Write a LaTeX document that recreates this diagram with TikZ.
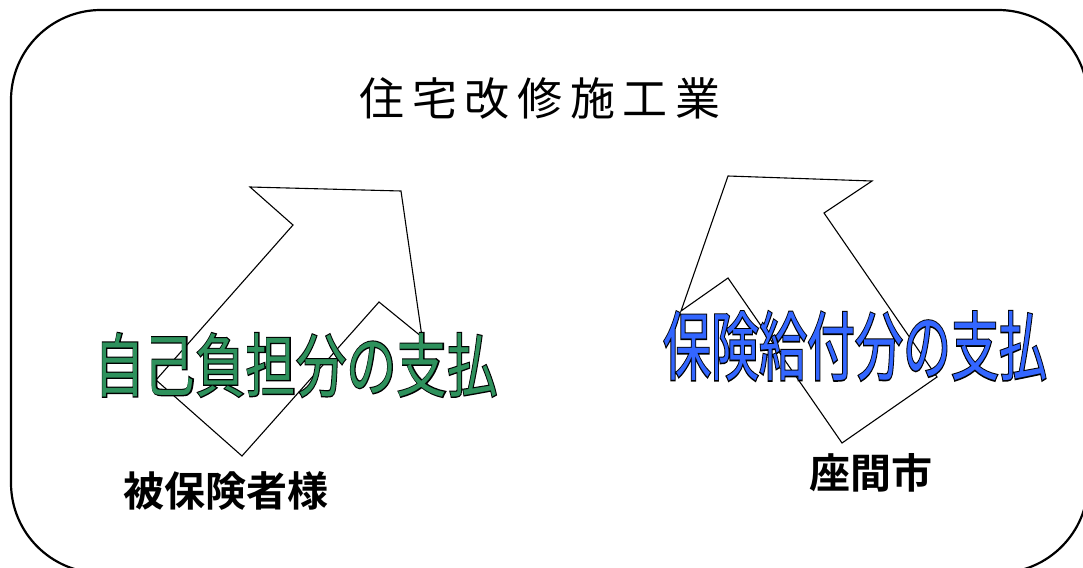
\documentclass[tikz,border=0pt]{standalone}
\usepackage{fontspec}
\usepackage{graphicx}
\newfontfamily\cjk{Noto Sans CJK JP}
\newfontfamily\cjkb{Noto Sans CJK JP}[BoldFont={* Bold}]
\newfontfamily\cjkfat{Noto Sans CJK JP}[FakeBold=3.5]
\definecolor{paygreen}{RGB}{46,145,92}
\definecolor{payblue}{RGB}{51,102,255}
\newcommand\outlinetext[2]{{\cjkfat\color{black}\rlap{#2}}{\cjk\color{#1}#2}}
\tikzset{
  arrowshape/.style={draw=black, line width=1.1pt, line join=miter},
  framebox/.style={draw=black, line width=2.2pt, rounded corners=90pt},
  label/.style={inner sep=0pt, font=\cjkb\bfseries\fontsize{41}{45}\selectfont},
}
\begin{document}
\begin{tikzpicture}[x=1pt,y=-1pt]
\useasboundingbox (0,0) rectangle (1083,567);
\draw[framebox] (11,10) rectangle (1088,573);
% left arrow (up-right)
\draw[arrowshape] (250,187) -- (401,191) -- (422,337) -- (379,302) -- (242,456) -- (156,380) -- (293,225) -- cycle;
% right arrow (up-left)
\draw[arrowshape] (728,176) -- (872,181) -- (824,213) -- (937,377) -- (842,443) -- (728,278) -- (681,311) -- cycle;
\node[inner sep=0pt, font=\cjk\fontsize{45}{50}\selectfont] (title) at (540,98)
  {住\hspace{7.6pt}宅\hspace{7.6pt}改\hspace{7.6pt}修\hspace{7.6pt}施\hspace{7.6pt}工\hspace{7.6pt}業};
\node[inner sep=0pt, font=\fontsize{69}{74}\selectfont] (self) at (296,365)
  {\scalebox{0.73}[1]{\outlinetext{paygreen}{自己負担分の支払}}};
\node[inner sep=0pt, font=\fontsize{75}{80}\selectfont] (ins) at (855,346)
  {\scalebox{0.64}[1]{\outlinetext{payblue}{保険給付分の支払}}};
\node[label] (insured) at (226,491) {被保険者様};
\node[label] (city) at (871,473) {座間市};
\end{tikzpicture}
\end{document}
